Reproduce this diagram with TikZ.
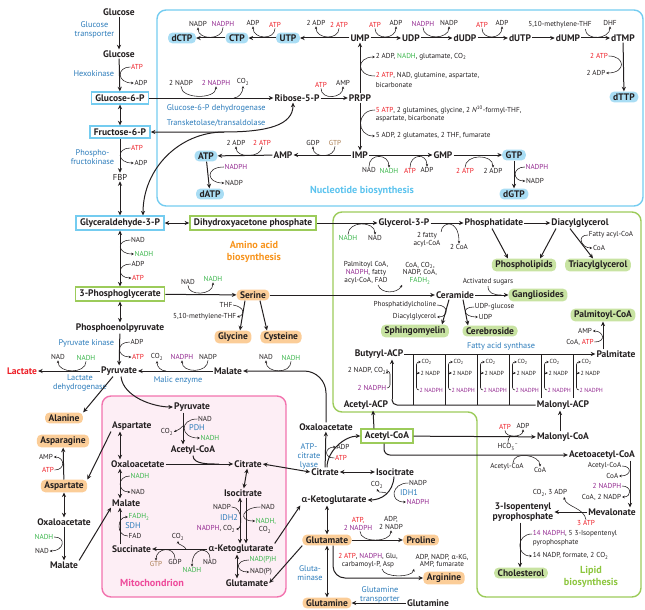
\documentclass[tikz,border=0pt]{standalone}
\usepackage{fontspec}
\setmainfont{PT Sans}
\newfontfamily\grkfont{Lato}
\usetikzlibrary{arrows.meta, positioning, calc}

\definecolor{ink}{HTML}{231F20}
\definecolor{atpred}{HTML}{ED1C24}
\definecolor{nadhgreen}{HTML}{39B54A}
\definecolor{nadphpurple}{HTML}{92278F}
\definecolor{enzblue}{HTML}{2B7BBA}
\definecolor{gtpbrown}{HTML}{A97C50}
\definecolor{nucline}{HTML}{74CCF0}
\definecolor{nucfill}{HTML}{A9DDF4}
\definecolor{nuctext}{HTML}{5CC3EE}
\definecolor{aafill}{HTML}{FBCD98}
\definecolor{aatext}{HTML}{F7941D}
\definecolor{lipline}{HTML}{9CCB5A}
\definecolor{lipfill}{HTML}{C8E3A2}
\definecolor{liptext}{HTML}{8DC63F}
\definecolor{mitoline}{HTML}{F273AE}
\definecolor{mitofill}{HTML}{FDEEF5}
\definecolor{mitotext}{HTML}{EE4B9B}

\newcommand{\akg}{{\grkfont α}}
\newcommand{\cotwo}{CO\textsubscript{2}}

\begin{document}
\begin{tikzpicture}[
    x=1pt, y=-1pt,
    met/.style={font=\fontsize{9.5}{10.2}\selectfont\bfseries, text=ink, inner sep=1pt, align=center},
    metreg/.style={font=\fontsize{8.6}{9.4}\selectfont, text=ink, inner sep=1pt},
    cof/.style={font=\fontsize{7.2}{7.9}\selectfont, text=ink, inner sep=0.6pt, align=center},
    fascof/.style={font=\fontsize{5.9}{6.5}\selectfont, text=ink, inner sep=0.4pt},
    enz/.style={font=\fontsize{8.3}{8.9}\selectfont, text=enzblue, inner sep=0.6pt, align=center},
    atp/.style={cof, text=atpred},
    nadh/.style={cof, text=nadhgreen},
    nadph/.style={cof, text=nadphpurple},
    gtp/.style={cof, text=gtpbrown},
    nucbox/.style={met, fill=nucfill, rounded corners=4.5pt, inner xsep=3.5pt, inner ysep=2pt},
    aabox/.style={met, fill=aafill, rounded corners=4.5pt, inner xsep=3.5pt, inner ysep=2pt},
    lipbox/.style={met, fill=lipfill, rounded corners=4.5pt, inner xsep=3.5pt, inner ysep=2pt},
    bluerect/.style={met, draw=nucline, line width=1.4pt, fill=white, inner xsep=4pt, inner ysep=2.5pt},
    greenrect/.style={met, draw=lipline, line width=1.4pt, fill=white, inner xsep=4pt, inner ysep=2.5pt},
    region/.style={line width=1.4pt, rounded corners=9pt},
    reglabel/.style={font=\fontsize{10.2}{11.6}\selectfont\bfseries, align=center, inner sep=1pt},
    arr/.style={-{Stealth[length=4.6pt, width=4.2pt]}, line width=1pt, draw=ink},
    darr/.style={{Stealth[length=4.6pt, width=4.2pt]}-{Stealth[length=4.6pt, width=4.2pt]}, line width=1pt, draw=ink},
    link/.style={line width=1pt, draw=ink},
    side/.style={-{Stealth[length=2.7pt, width=2.5pt]}, line width=0.55pt, draw=ink},
    joint/.style={line width=0.55pt, draw=ink}
  ]
  \useasboundingbox (0,0) rectangle (645,610);

  % Regions
  \draw[region, draw=nucline] (157,10) rectangle (643,206);
  \draw[region, draw=lipline] (333,212) -- (641,212) -- (641,597) -- (477,597) -- (477,412) -- (333,412) -- cycle;
  \draw[region, draw=mitoline, fill=mitofill] (102,396) rectangle (286,597);

  % Glycolysis
  \node[met] (glcout) at (119,12) {Glucose};
  \node[met] (glc) at (119,54) {Glucose};
  \node[enz, anchor=east] (glut) at (115,30) {Glucose\\transporter};
  \node[enz, anchor=east] (hk) at (115,74) {Hexokinase};
  \node[atp] (hkatp) at (137,67) {ATP};
  \node[cof] (hkadp) at (141,83) {ADP};
  \node[bluerect] (g6p) at (120,98) {Glucose-6-P};
  \node[bluerect] (f6p) at (120,132) {Fructose-6-P};
  \node[enz, anchor=east] (pfk) at (115,157) {Phospho-\\fructokinase};
  \node[atp] (pfkatp) at (137,148) {ATP};
  \node[cof] (pfkadp) at (141,163) {ADP};
  \node[metreg] (fbp) at (120,177) {FBP};
  \node[bluerect] (g3p) at (120,223) {Glyceraldehyde-3-P};
  \node[greenrect] (dhap) at (253,223) {Dihydroxyacetone phosphate};
  \node[cof] (gapnad) at (138,240) {NAD};
  \node[nadh] (gapnadh) at (144,254) {NADH};
  \node[cof] (pgkadp) at (138,264) {ADP};
  \node[atp] (pgkatp) at (138,278) {ATP};
  \node[greenrect] (pg3) at (120,294) {3-Phosphoglycerate};
  \node[met] (pep) at (120,328) {Phosphoenolpyruvate};
  \node[enz, anchor=east] (pk) at (115,343) {Pyruvate kinase};
  \node[cof] (pkadp) at (137,342) {ADP};
  \node[atp] (pkatp) at (138,357) {ATP};
  \node[met] (pyr) at (119,371) {Pyruvate};
  \node[met, text=atpred] (lac) at (22,371) {Lactate};
  \node[cof] (ldhnad) at (58,357) {NAD};
  \node[nadh] (ldhnadh) at (86,358) {NADH};
  \node[enz] (ldh) at (80,383) {Lactate\\dehydrogenase};

  \draw[arr] (glcout) -- (glc);
  \draw[arr] (glc) -- (g6p);
  \draw[darr] (g6p) -- (f6p);
  \draw[arr] (f6p) -- (fbp);
  \draw[darr] (fbp) -- (g3p);
  \draw[darr] (g3p) -- (dhap);
  \draw[darr] (g3p) -- (pg3);
  \draw[darr] (pg3) -- (pep);
  \draw[arr] (pep) -- (pyr);
  \draw[arr] (pyr) -- (lac);
  \draw[side] (hkatp.west) .. controls +(-14,0) and +(-17,0) .. (hkadp.west);
  \draw[side] (pfkatp.west) .. controls +(-14,0) and +(-17,0) .. (pfkadp.west);
  \draw[side] (gapnad.west) .. controls +(-14,0) and +(-17,0) .. (gapnadh.west);
  \draw[side] (pgkadp.west) .. controls +(-14,0) and +(-14,0) .. (pgkatp.west);
  \draw[side] (pkadp.west) .. controls +(-14,0) and +(-15,0) .. (pkatp.west);
  \draw[side] (ldhnadh.south) .. controls +(0,13) and +(0,13) .. (ldhnad.south);

  % Pentose phosphate branch
  \node[met] (r5p) at (297,98) {Ribose-5-P};
  \node[met] (prpp) at (360,98) {PRPP};
  \node[cof] (ppnadp) at (181,83) {2 NADP};
  \node[nadph] (ppnadph) at (216,83) {2 NADPH};
  \node[cof] (ppco2) at (243,82) {\cotwo};
  \node[enz, anchor=west] (g6pdh) at (166,108) {Glucose-6-P dehydrogenase};
  \node[enz, anchor=west] (tkta) at (166,123) {Transketolase/transaldolase};
  \node[atp] (prsatp) at (321,85) {ATP};
  \node[cof] (prsamp) at (343,83) {AMP};
  \coordinate (tkj) at (224,132);

  \draw[arr] (g6p) -- (r5p);
  \draw[arr] (r5p) -- (prpp);
  \draw[side] (ppnadp.south) .. controls +(0,13) and +(0,13) .. (ppnadph.south);
  \draw[side] ($(ppco2.south)+(-9,12)$) .. controls +(5,0) and +(0,6) .. (ppco2.south);
  \draw[side] (prsatp.south) .. controls +(0,12) and +(0,12) .. (prsamp.south);
  \draw[darr] (f6p.east) -- (tkj) .. controls (268,132) and (293,125) .. ([xshift=-4pt]r5p.south);
  \draw[arr] (tkj) .. controls (180,132) and (143,168) .. ([xshift=23pt]g3p.north);

  % Nucleotides
  \node[nucbox] (dctp) at (182,38) {dCTP};
  \node[nucbox] (ctp) at (237,38) {CTP};
  \node[nucbox] (utp) at (288,38) {UTP};
  \node[met] (ump) at (360,38) {UMP};
  \node[met] (udp) at (411,38) {UDP};
  \node[met] (dudp) at (465,38) {dUDP};
  \node[met] (dutp) at (520,38) {dUTP};
  \node[met] (dump) at (568,38) {dUMP};
  \node[met] (dtmp) at (623,38) {dTMP};
  \node[nucbox] (dttp) at (624,97) {dTTP};
  \node[met] (imp) at (360,155) {IMP};
  \node[met] (amp) at (283,155) {AMP};
  \node[nucbox] (atpn) at (206,156) {ATP};
  \node[nucbox] (datp) at (210,194) {dATP};
  \node[met] (gmp) at (443,155) {GMP};
  \node[nucbox] (gtpn) at (514,155) {GTP};
  \node[nucbox] (dgtp) at (514,194) {dGTP};

  \node[cof] (cnadp) at (198,24) {NADP};
  \node[nadph] (cnadph) at (223,24) {NADPH};
  \node[cof] (cadp) at (253,23) {ADP};
  \node[atp] (catp) at (275,25) {ATP};
  \node[cof] (uadp) at (316,23) {2 ADP};
  \node[atp] (uatp) at (339,25) {2 ATP};
  \node[atp] (udatp) at (375,25) {ATP};
  \node[cof] (udadp) at (396,23) {ADP};
  \node[nadph] (rnadph) at (423,24) {NADPH};
  \node[cof] (rnadp) at (449,23) {NADP};
  \node[atp] (dudatp) at (482,25) {ATP};
  \node[cof] (dudadp) at (502,23) {ADP};
  \node[cof] (mthf) at (560,25) {5,10-methylene-THF};
  \node[cof] (dhf) at (610,23) {DHF};
  \node[atp] (tatp) at (599,56) {2 ATP};
  \node[cof] (tadp) at (596,73) {2 ADP};
  \node[cof, anchor=west] (pyrout) at (375,57) {2 ADP, \textcolor{nadhgreen}{NADH}, glutamate, \cotwo};
  \node[cof, anchor=west] (pyrin) at (375,76) {\textcolor{atpred}{2 ATP}, NAD, glutamine, aspartate,};
  \node[cof, anchor=west] (pyrin2) at (375,85) {bicarbonate};
  \node[cof, anchor=west] (purin) at (375,110) {\textcolor{atpred}{5 ATP}, 2 glutamines, glycine, 2 \textit{N}\textsuperscript{10}-formyl-THF,};
  \node[cof, anchor=west] (purin2) at (375,119) {aspartate, bicarbonate};
  \node[cof, anchor=west] (purout) at (375,136) {5 ADP, 2 glutamates, 2 THF, fumarate};
  \node[cof] (agdp) at (313,143) {GDP};
  \node[gtp] (agtp) at (335,143) {GTP};
  \node[cof] (aadp) at (236,143) {2 ADP};
  \node[atp] (aatp) at (262,143) {2 ATP};
  \node[nadph] (danadph) at (236,167) {NADPH};
  \node[cof] (danadp) at (234,183) {NADP};
  \node[cof] (gnad) at (369,170) {NAD};
  \node[nadh] (gnadh) at (389,171) {NADH};
  \node[atp] (gatp) at (410,171) {ATP};
  \node[cof] (gadp) at (427,170) {ADP};
  \node[atp] (ggatp) at (465,171) {2 ATP};
  \node[cof] (ggadp) at (493,171) {2 ADP};
  \node[nadph] (dgnadph) at (537,167) {NADPH};
  \node[cof] (dgnadp) at (535,181) {NADP};
  \node[reglabel, text=nuctext] (nuclab) at (362,191) {Nucleotide biosynthesis};

  \draw[arr] (ump) -- (udp);
  \draw[arr] (udp) -- (dudp);
  \draw[arr] (dudp) -- (dutp);
  \draw[arr] (dutp) -- (dump);
  \draw[arr] (dump) -- (dtmp);
  \draw[arr] (ump) -- (utp);
  \draw[arr] (utp) -- (ctp);
  \draw[arr] (ctp) -- (dctp);
  \draw[arr] (dtmp) -- (dttp);
  \draw[arr] (prpp) -- (ump);
  \draw[arr] (prpp) -- (imp);
  \draw[arr] (imp) -- (amp);
  \draw[arr] (amp) -- (atpn);
  \draw[arr] (atpn) -- (datp);
  \draw[arr] (imp) -- (gmp);
  \draw[arr] (gmp) -- (gtpn);
  \draw[arr] (gtpn) -- (dgtp);
  \draw[side] (cnadph.south) .. controls +(0,13) and +(0,13) .. (cnadp.south);
  \draw[side] (catp.south) .. controls +(0,12) and +(0,13) .. (cadp.south);
  \draw[side] (uatp.south) .. controls +(0,12) and +(0,13) .. (uadp.south);
  \draw[side] (udatp.south) .. controls +(0,12) and +(0,13) .. (udadp.south);
  \draw[side] (rnadph.south) .. controls +(0,13) and +(0,13) .. (rnadp.south);
  \draw[side] (dudatp.south) .. controls +(0,12) and +(0,13) .. (dudadp.south);
  \draw[side] ([xshift=-7pt]mthf.south east) .. controls +(0,12) and +(0,13) .. (dhf.south);
  \draw[side] (tatp.east) .. controls +(17,0) and +(20,0) .. (tadp.east);
  \draw[side] (pyrin.west) .. controls +(-19,0) and +(-19,0) .. (pyrout.west);
  \draw[side] (purin.west) .. controls +(-19,0) and +(-19,0) .. (purout.west);
  \draw[side] (agtp.south) .. controls +(0,12) and +(0,12) .. (agdp.south);
  \draw[side] (aatp.south) .. controls +(0,12) and +(0,12) .. (aadp.south);
  \draw[side] (danadph.west) .. controls +(-19,0) and +(-18,0) .. (danadp.west);
  \draw[side] (gnad.north) .. controls +(0,-14) and +(0,-14) .. (gnadh.north);
  \draw[side] (gatp.north) .. controls +(0,-14) and +(0,-14) .. (gadp.north);
  \draw[side] (ggatp.north) .. controls +(0,-14) and +(0,-14) .. (ggadp.north);
  \draw[side] (dgnadph.west) .. controls +(-13,0) and +(-13,0) .. (dgnadp.west);

  % Serine branch
  \node[reglabel, text=aatext] (aalab) at (254,252) {Amino acid\\biosynthesis};
  \node[aabox] (ser) at (253,295) {Serine};
  \node[aabox] (gly) at (233,337) {Glycine};
  \node[aabox] (cys) at (281,337) {Cysteine};
  \node[cof] (snad) at (188,282) {NAD};
  \node[nadh] (snadh) at (213,279) {NADH};
  \node[cof] (thf) at (226,305) {THF};
  \node[cof, anchor=east] (mthf2) at (237,317) {5,10-methylene-THF};
  \draw[arr] (pg3) -- (ser);
  \draw[side] (snad.south) .. controls +(0,11) and +(0,13) .. (snadh.south);
  \draw[arr] ([xshift=-8pt]ser.south) -- ([xshift=7pt]gly.north);
  \draw[arr] ([xshift=7pt]ser.south) -- ([xshift=-14pt]cys.north);
  \draw[side] (thf.east) .. controls +(12,2) and +(8,-2) .. (mthf2.east);

  % Malate / malic enzyme
  \node[met] (malc) at (228,371) {Malate};
  \node[cof] (meco2) at (157,357) {\cotwo};
  \node[nadph] (menadph) at (182,357) {NADPH};
  \node[cof] (menadp) at (208,357) {NADP};
  \node[enz] (me) at (178,380) {Malic enzyme};
  \node[met] (oaac) at (326,427) {Oxaloacetate};
  \node[cof] (oanad) at (266,357) {NAD};
  \node[nadh] (oanadh) at (291,358) {NADH};
  \draw[arr] (malc) -- (pyr);
  \draw[side] (menadp.south) .. controls +(0,13) and +(0,13) .. (menadph.south);
  \draw[side] ($(meco2.south)+(9,10)$) .. controls +(-5,0) and +(0,6) .. (meco2.south);
  \draw[arr, rounded corners=22pt] (oaac.north) |- (malc.east);
  \draw[side] (oanadh.south) .. controls +(0,13) and +(0,13) .. (oanad.south);

  % Mitochondrion
  \coordinate (mcol) at (120,0);
  \node[met] (pyrm) at (192,407) {Pyruvate};
  \node[met] (accm) at (193,450) {Acetyl-CoA};
  \node[met, anchor=west] (aspm) at (111,426) {Aspartate};
  \node[met, anchor=west] (oaam) at (110,464) {Oxaloacetate};
  \node[met, anchor=west] (malm) at (111,503) {Malate};
  \node[met, anchor=west] (sucm) at (111,549) {Succinate};
  \node[met] (citm) at (248,464) {Citrate};
  \node[met] (icitm) at (243,493) {Isocitrate};
  \node[met] (akgm) at (241,549) {\akg-Ketoglutarate};
  \node[met] (glum) at (247,583) {Glutamate};
  \node[reglabel, text=mitotext] (mitolab) at (152,583) {Mitochondrion};
  \node[cof] (pdhnad) at (205,419) {NAD};
  \node[enz] (pdh) at (197,428) {PDH};
  \node[nadh] (pdhnadh) at (210,438) {NADH};
  \node[cof] (pdhco2) at (167,432) {\cotwo};
  \coordinate (pdhcol) at (183,0);
  \node[cof] (i2nadp) at (222,507) {NADP};
  \node[enz] (idh2) at (229,518) {IDH2};
  \node[cof, anchor=east] (i2nadph) at (236,529) {\textcolor{nadphpurple}{NADPH}, \cotwo};
  \node[cof] (i3nad) at (268,507) {NAD};
  \node[nadh] (i3nadh) at (266,521) {NADH,};
  \node[cof] (i3co2) at (265,530) {\cotwo};
  \node[cof] (sco2) at (178,537) {\cotwo};
  \node[gtp] (sgtp) at (156,564) {GTP};
  \node[cof] (sgdp) at (175,562) {GDP};
  \node[nadh] (snadh2) at (192,570) {NADH};
  \node[cof] (snad2) at (210,562) {NAD};
  \node[nadh] (sfadh) at (139,517) {FADH\textsubscript{2}};
  \node[enz] (sdh) at (133,526) {SDH};
  \node[cof] (sfad) at (135,536) {FAD};
  \node[nadh] (mnadh) at (140,476) {NADH};
  \node[cof] (mnad) at (138,492) {NAD};
  \node[nadh] (gdhnadph) at (263,560) {NAD(P)H};
  \node[cof] (gdhnadp) at (261,572) {NAD(P)};

  \draw[arr] (pyrm.south -| pdhcol) -- (accm.north -| pdhcol);
  \draw[side] (pdhnad.west) .. controls +(-18,0) and +(-20,0) .. (pdhnadh.west);
  \draw[side] ($(pdhco2.east)+(9,-6)$) .. controls +(-2,3) and +(4,-2) .. (pdhco2.east);
  \draw[darr] (aspm.south -| mcol) -- (oaam.north -| mcol);
  \draw[darr] (oaam.south -| mcol) -- (malm.north -| mcol);
  \draw[arr] (sucm.north -| mcol) -- (malm.south -| mcol);
  \draw[arr] (oaam) -- (citm);
  \draw[link] (accm.south) .. controls +(0,9) and +(-10,0) .. ([xshift=-14pt]citm.west);
  \draw[darr] (citm) -- (icitm);
  \draw[darr] ([xshift=-3pt]icitm.south) -- ([xshift=-1pt]akgm.north);
  \draw[arr] ([xshift=3pt]icitm.south) -- ([xshift=5pt]akgm.north);
  \draw[side] (i2nadp.east) .. controls +(12,0) and +(6,0) .. (i2nadph.east);
  \draw[side] (i3nad.west) .. controls +(-18,0) and +(-18,0) .. (i3nadh.west);
  \draw[arr] (akgm) -- (sucm);
  \draw[side] (sgdp.north) .. controls +(0,-13) and +(0,-13) .. (sgtp.north);
  \draw[side] (snad2.north) .. controls +(0,-12) and +(0,-20) .. (snadh2.north);
  \draw[side] ($(sco2.south)+(8,8)$) .. controls +(-2,-4) and +(0,4) .. (sco2.south);
  \draw[side] (sfad.west) .. controls +(-12,0) and +(-11,0) .. (sfadh.west);
  \draw[side] (mnadh.west) .. controls +(-13,0) and +(-13,0) .. (mnad.west);
  \draw[darr] ([xshift=-4pt]akgm.south) -- ([xshift=-10pt]glum.north);
  \draw[side] (gdhnadph.west) .. controls +(-14,0) and +(-14,0) .. (gdhnadp.west);

  % Left cytosol
  \node[aabox] (ala) at (64,418) {Alanine};
  \node[aabox] (asn) at (63,441) {Asparagine};
  \node[aabox] (aspc) at (64,486) {Aspartate};
  \node[met] (oaal) at (64,522) {Oxaloacetate};
  \node[met] (mall) at (64,565) {Malate};
  \node[cof] (asamp) at (46,457) {AMP};
  \node[atp] (asatp) at (48,470) {ATP};
  \node[nadh] (olnadh) at (44,537) {NADH};
  \node[cof] (olnad) at (42,551) {NAD};
  \draw[arr] (aspc) -- (asn);
  \draw[darr] (aspc) -- (oaal);
  \draw[arr] (oaal) -- (mall);
  \draw[side] (asatp.east) .. controls +(11,0) and +(11,0) .. (asamp.east);
  \draw[side] (olnadh.east) .. controls +(13,0) and +(14,0) .. (olnad.east);

  % Transport across the mitochondrion
  \draw[arr] ([xshift=2pt]pyr.south) .. controls +(2,20) and +(-20,0) .. (pyrm.west);
  \draw[arr] ([xshift=-6pt]pyr.south) -- (ala.north east);
  \draw[arr] (aspm.south west) -- (aspc.north east);
  \draw[arr] (mall.north east) -- (malm.south west);

  % Citrate shuttle
  \node[met] (citc) at (325,472) {Citrate};
  \node[enz] (acl) at (309,456) {ATP-\\citrate\\lyase};
  \node[cof] (acladp) at (343,447) {ADP};
  \node[atp] (aclatp) at (341,458) {ATP};
  \node[greenrect] (accc) at (387,436) {Acetyl-CoA};
  \node[met] (icitc) at (395,472) {Isocitrate};
  \node[met] (akgc) at (334,500) {\akg-Ketoglutarate};
  \node[cof] (ico2) at (377,485) {\cotwo};
  \node[cof] (i1nadp) at (418,483) {NADP};
  \node[enz] (idh1) at (409,493) {IDH1};
  \node[nadph] (i1nadph) at (418,502) {NADPH};
  \draw[darr] (citm.east) -- (citc.west);
  \draw[arr] (citc) -- (oaac);
  \draw[arr] ([xshift=2pt]citc.north) .. controls +(0,-16) and +(-16,0) .. (accc.west);
  \draw[side] (aclatp.west) .. controls +(-11,0) and +(-11,0) .. (acladp.west);
  \draw[darr] (citc) -- (icitc);
  \draw[arr] ([xshift=-1pt]icitc.south) .. controls +(-1,16) and +(14,0) .. (akgc.east);
  \draw[side] (i1nadp.west) .. controls +(-17,0) and +(-17,0) .. (i1nadph.west);
  \draw[side] ($(icitc.south)+(-8,17)$) .. controls +(-2,-3) and +(2,5) .. (ico2.south);
  \draw[arr] (akgm.north east) -- (akgc.south west);

  % Glutamate family
  \node[aabox] (gluc) at (327,540) {Glutamate};
  \node[aabox] (pro) at (421,540) {Proline};
  \node[aabox] (arg) at (444,578) {Arginine};
  \node[aabox] (glnc) at (327,603) {Glutamine};
  \node[met] (glnx) at (428,603) {Glutamine};
  \node[cof] (prin) at (358,524) {\textcolor{atpred}{ATP,}\\\textcolor{nadphpurple}{2 NADPH}};
  \node[cof] (prout) at (391,523) {ADP,\\2 NADP};
  \node[cof] (argin) at (368,561) {\textcolor{atpred}{2 ATP}, \textcolor{nadphpurple}{NADPH}, Glu,\\carbamoyl-P, Asp};
  \node[cof] (argout) at (442,561) {ADP, NADP, \akg-KG,\\AMP, fumarate};
  \node[enz] (glnase) at (310,573) {Gluta-\\minase};
  \node[enz] (glntr) at (380,595) {Glutamine\\transporter};
  \draw[darr] (akgc.south -| gluc) -- (gluc);
  \draw[arr] (gluc) -- (pro);
  \draw[side] ([xshift=2pt]prin.south) .. controls +(0,12) and +(0,12) .. (prout.south);
  \draw[arr, rounded corners=12pt] ([xshift=6pt]gluc.south) |- (arg.west);
  \draw[side] ([xshift=14pt]argin.south) .. controls +(2,9) and +(-2,9) .. ([xshift=-28pt]argout.south);
  \draw[darr] (gluc) -- (glnc);
  \draw[arr] (glnx) -- (glnc);
  \draw[arr] (gluc.south west) -- (glum.east);

  % Glycerolipids
  \node[met] (g3pl) at (404,223) {Glycerol-3-P};
  \node[met] (pa) at (494,223) {Phosphatidate};
  \node[met] (dag) at (580,223) {Diacylglycerol};
  \node[lipbox] (pl) at (524,265) {Phospholipids};
  \node[lipbox] (tag) at (598,265) {Triacylglycerol};
  \node[nadh] (dnadh) at (348,238) {NADH};
  \node[cof] (dnad) at (375,238) {NAD};
  \node[cof] (gfa) at (427,240) {2 fatty\\acyl-CoA};
  \node[cof] (gcoa) at (459,247) {2 CoA};
  \node[cof] (tfa) at (611,235) {Fatty acyl-CoA};
  \node[cof] (tcoa) at (599,248) {CoA};
  \draw[arr] (dhap) -- (g3pl);
  \draw[arr] (g3pl) -- (pa);
  \draw[arr] (pa) -- (dag);
  \draw[arr] ([xshift=-2pt]pa.south) -- ([xshift=-16pt]pl.north);
  \draw[arr] ([xshift=-24pt]dag.south) -- ([xshift=16pt]pl.north);
  \draw[arr] ([xshift=-10pt]dag.south) -- ([xshift=-5pt]tag.north);
  \draw[side] (dnadh.north) .. controls +(0,-14) and +(0,-14) .. (dnad.north);
  \draw[side] (gfa.north east) .. controls +(0,-10) and +(0,-26) .. (gcoa.north);
  \draw[side] (tfa.west) .. controls +(-12,0) and +(-11,0) .. (tcoa.west);

  % Sphingolipids
  \node[met] (cer) at (455,295) {Ceramide};
  \node[lipbox] (gang) at (538,295) {Gangliosides};
  \node[lipbox] (sph) at (415,331) {Sphingomyelin};
  \node[lipbox] (cereb) at (490,331) {Cerebroside};
  \node[cof] (cerin) at (366,273) {Palmitoyl CoA,\\\textcolor{nadphpurple}{NADPH}, fatty\\acyl-CoA, FAD};
  \node[cof] (cerout) at (420,273) {CoA, \cotwo,\\NADP, CoA,\\\textcolor{nadhgreen}{FADH\textsubscript{2}}};
  \node[cof] (asug) at (488,282) {Activated sugars};
  \node[cof, anchor=east] (pc) at (437,305) {Phosphatidylcholine};
  \node[cof, anchor=east] (dag2) at (437,317) {Diacylglycerol};
  \node[cof, anchor=west] (udpg) at (474,307) {UDP-glucose};
  \node[cof, anchor=west] (udp2) at (478,317) {UDP};
  \draw[arr] (ser) -- (cer);
  \draw[arr] (cer) -- (gang);
  \draw[arr] ([xshift=-6pt]cer.south) -- ([xshift=27pt]sph.north);
  \draw[arr] ([xshift=8pt]cer.south) -- ([xshift=-22pt]cereb.north);
  \draw[side] ([xshift=12pt]cerin.south) .. controls +(3,9) and +(-5,9) .. (cerout.south west);
  \draw[joint] (asug.south) .. controls +(0,7) and +(-8,0) .. ([xshift=-7pt]gang.west);
  \draw[side] (pc.east) .. controls +(12,0) and +(12,0) .. (dag2.east);
  \draw[side] (udpg.west) .. controls +(-13,0) and +(-15,0) .. (udp2.west);

  % Fatty acid synthesis
  \node[met] (bacp) at (379,354) {Butyryl-ACP};
  \node[met] (aacp) at (366,405) {Acetyl-ACP};
  \node[met] (macp) at (563,405) {Malonyl-ACP};
  \node[met] (mcoa) at (563,437) {Malonyl-CoA};
  \node[met] (palm) at (616,354) {Palmitate};
  \node[lipbox] (palcoa) at (603,315) {Palmitoyl-CoA};
  \node[enz] (fas) at (501,346) {Fatty acid synthase};
  \node[cof] (pamp) at (585,331) {AMP};
  \node[cof] (pcoa) at (580,342) {CoA, \textcolor{atpred}{ATP}};
  \coordinate (fasj) at (392,399);
  \node[cof, anchor=east] (f0out) at (387,371) {2 NADP, \cotwo};
  \node[nadph, anchor=east] (f0in) at (387,388) {2 NADPH};
  \draw[link, rounded corners=5pt] (macp.west) -| (fasj);
  \draw[arr] (fasj) -- (bacp.south -| fasj);
  \draw[arr] (bacp) -- (palm);
  \draw[side, rounded corners=3pt] (f0in.east) -- ++(3,0) |- (f0out.east);
  \foreach \x [count=\i] in {413,445,477,509,541,573} {
    \draw[link] (\x,354) -- (\x,{\x<530 ? 405 : 398});
    \node[fascof, anchor=west] (fco\i) at (\x+8,362) {\cotwo};
    \node[fascof, anchor=west] (fnp\i) at (\x+7,373) {2 NADP};
    \node[fascof, anchor=west, text=nadphpurple] (fnh\i) at (\x+6,390) {2 NADPH};
    \draw[side, rounded corners=2.5pt] (fnh\i.west) -- ++(-2.5,0) |- (fco\i.west);
    \draw[side] ([xshift=-3.5pt]fnp\i.west) -- (fnp\i.west);
  }
  \draw[arr] (palm.north -| palcoa) -- (palcoa.south);
  \draw[side] (pcoa.east) .. controls +(12,0) and +(11,0) .. (pamp.east);
  \draw[arr] ([xshift=-13pt]accc.north) -- ([xshift=7pt]aacp.south);
  \draw[arr] ([xshift=-3pt]mcoa.north) -- ([xshift=-3pt]macp.south);
  \draw[arr] (accc) -- (mcoa);
  \node[atp] (mcatp) at (505,427) {ATP};
  \node[cof] (mcadp) at (523,426) {ADP};
  \node[cof] (hco3) at (508,447) {HCO\textsubscript{3}\textsuperscript{--}};
  \draw[side] (mcatp.south) .. controls +(0,8) and +(0,8) .. (mcadp.south);
  \draw[joint] (hco3.north) .. controls +(0,-4) and +(-3,0) .. ($(hco3.north)+(4,-7)$);

  % Cholesterol synthesis
  \coordinate (lipcol) at (630,0);
  \node[met] (acac) at (602,455) {Acetoacetyl-CoA};
  \node[cof] (aaacc) at (507,467) {Acetyl-CoA};
  \node[cof] (aacoa) at (540,470) {CoA};
  \node[met] (mev) at (612,512) {Mevalonate};
  \node[cof, anchor=east] (macc) at (622,466) {Acetyl-CoA};
  \node[cof, anchor=east] (mcoa2) at (619,476) {CoA};
  \node[nadph, anchor=east] (mnph) at (622,486) {2 NADPH};
  \node[cof, anchor=east] (mnp) at (622,497) {CoA, 2 NADP};
  \node[met] (ipp) at (523,512) {3-Isopentenyl\\pyrophosphate};
  \node[cof] (ipco) at (550,493) {\cotwo, 3 ADP};
  \node[atp] (ipatp) at (586,523) {3 ATP};
  \node[lipbox] (chol) at (521,573) {Cholesterol};
  \node[cof, anchor=west] (chin) at (532,534) {\textcolor{nadphpurple}{14 NADPH}, 5 3-Isopentenyl};
  \node[cof, anchor=west] (chin2) at (532,543) {pyrophosphate};
  \node[cof, anchor=west] (chout) at (532,556) {14 NADP, formate, 2 \cotwo};
  \node[reglabel, text=liptext] (liplab) at (591,577) {Lipid\\biosynthesis};
  \draw[arr, rounded corners=6pt] ([xshift=-3pt]accc.south) |- (acac.west);
  \draw[side] ([xshift=6pt]aaacc.north) .. controls +(0,-12) and +(0,-12) .. (aacoa.north);
  \draw[arr] (acac.south -| lipcol) -- (mev.north -| lipcol);
  \draw[side] (macc.east) .. controls +(10,0) and +(13,0) .. (mcoa2.east);
  \draw[side] (mnph.east) .. controls +(10,0) and +(10,0) .. (mnp.east);
  \draw[arr] (mev) -- (ipp);
  \draw[side] (ipatp.north) .. controls +(-2,-12) and +(2,10) .. ([xshift=14pt]ipco.south);
  \draw[arr] ([xshift=-3pt]ipp.south) -- ([xshift=-1pt]chol.north);
  \draw[side] (chin.west) .. controls +(-16,0) and +(-16,0) .. (chout.west);
\end{tikzpicture}
\end{document}
